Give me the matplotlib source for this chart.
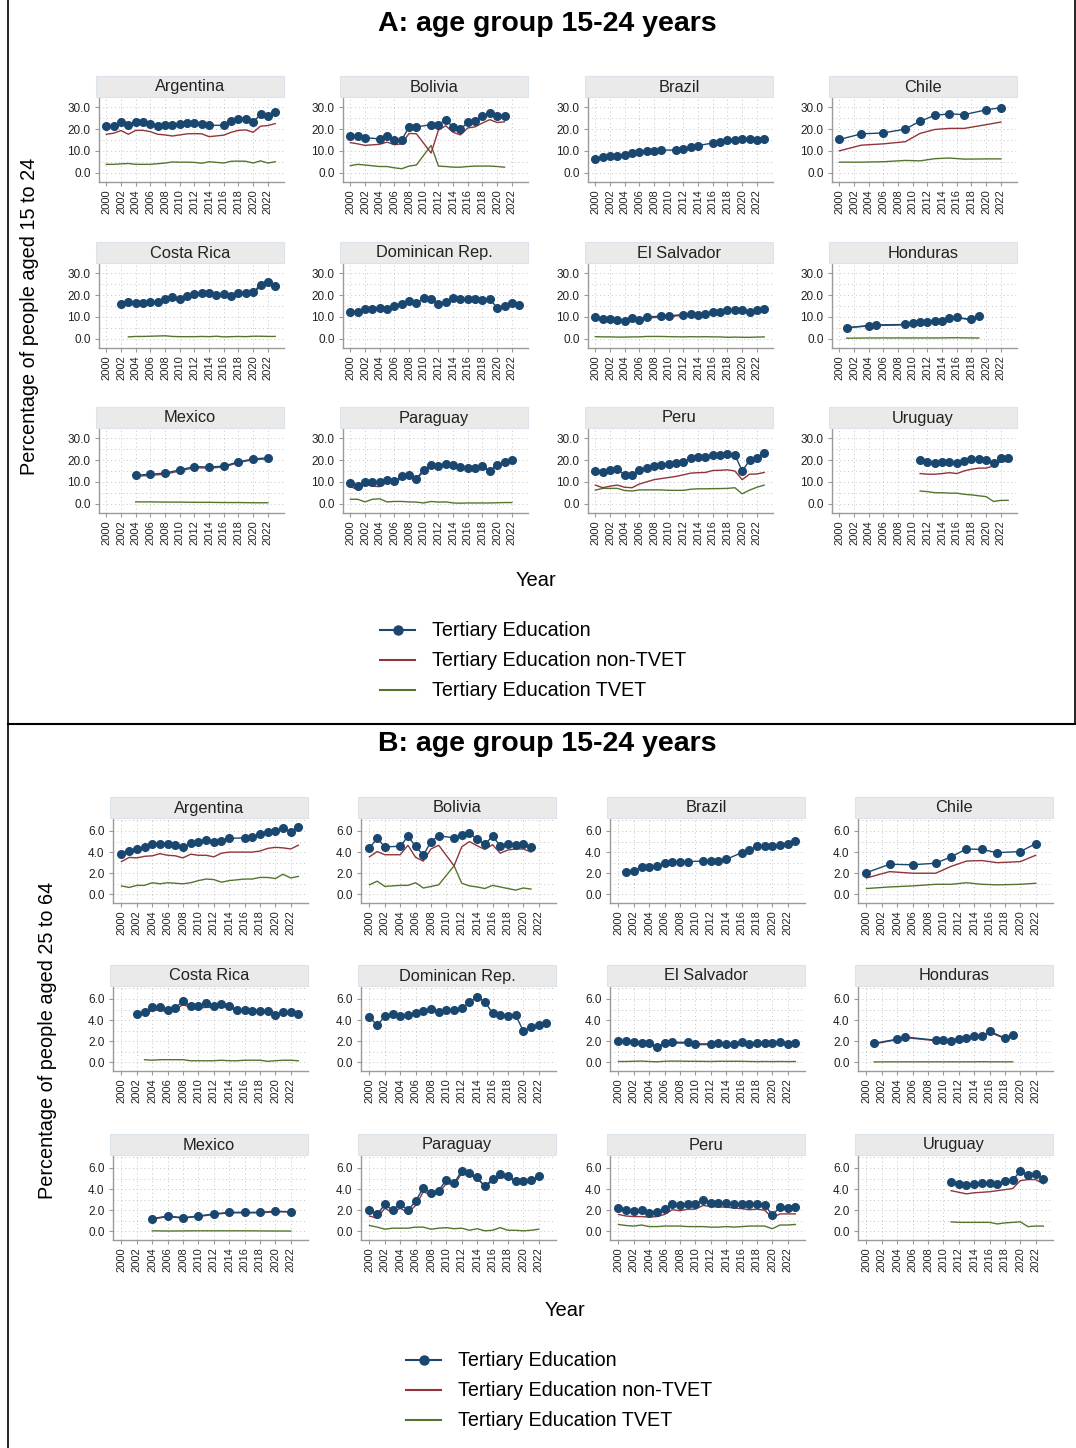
import numpy as np
import matplotlib
matplotlib.use("Agg")
import matplotlib.pyplot as plt
from matplotlib.ticker import FormatStrFormatter, MultipleLocator
from matplotlib.lines import Line2D
from matplotlib.patches import Rectangle

plt.rcParams['font.family'] = ['Liberation Sans', 'DejaVu Sans']

nan = np.nan

countries = ["Argentina", "Bolivia", "Brazil", "Chile",
             "Costa Rica", "Dominican Rep.", "El Salvador", "Honduras",
             "Mexico", "Paraguay", "Peru", "Uruguay"]

years_a = {
    "Argentina": [2000, 2001, 2002, 2003, 2004, 2005, 2006, 2007, 2008, 2009, 2010, 2011,
                  2012, 2013, 2014, 2016, 2017, 2018, 2019, 2020, 2021, 2022, 2023],
    "Bolivia": [2000, 2001, 2002, 2004, 2005, 2006, 2007, 2008, 2009, 2011, 2012, 2013,
                2014, 2015, 2016, 2017, 2018, 2019, 2020, 2021],
    "Brazil": [2000, 2001, 2002, 2003, 2004, 2005, 2006, 2007, 2008, 2009, 2011, 2012,
               2013, 2014, 2016, 2017, 2018, 2019, 2020, 2021, 2022, 2023],
    "Chile": [2000, 2003, 2006, 2009, 2011, 2013, 2015, 2017, 2020, 2022],
    "Costa Rica": [2002, 2003, 2004, 2005, 2006, 2007, 2008, 2009, 2010, 2011, 2012, 2013,
                   2014, 2015, 2016, 2017, 2018, 2019, 2020, 2021, 2022, 2023],
    "Dominican Rep.": [2000, 2001, 2002, 2003, 2004, 2005, 2006, 2007, 2008, 2009, 2010, 2011,
                       2012, 2013, 2014, 2015, 2016, 2017, 2018, 2019, 2020, 2021, 2022, 2023],
    "El Salvador": [2000, 2001, 2002, 2003, 2004, 2005, 2006, 2007, 2009, 2010, 2012, 2013,
                    2014, 2015, 2016, 2017, 2018, 2019, 2020, 2021, 2022, 2023],
    "Honduras": [2001, 2004, 2005, 2009, 2010, 2011, 2012, 2013, 2014, 2015, 2016, 2018, 2019],
    "Mexico": [2004, 2006, 2008, 2010, 2012, 2014, 2016, 2018, 2020, 2022],
    "Paraguay": [2000, 2001, 2002, 2003, 2004, 2005, 2006, 2007, 2008, 2009, 2010, 2011,
                 2012, 2013, 2014, 2015, 2016, 2017, 2018, 2019, 2020, 2021, 2022],
    "Peru": [2000, 2001, 2002, 2003, 2004, 2005, 2006, 2007, 2008, 2009, 2010, 2011,
             2012, 2013, 2014, 2015, 2016, 2017, 2018, 2019, 2020, 2021, 2022, 2023],
    "Uruguay": [2011, 2012, 2013, 2014, 2015, 2016, 2017, 2018, 2019, 2020, 2021, 2022, 2023],
}
years_b = dict(years_a)
years_b["Brazil"] = [2001, 2002, 2003, 2004, 2005, 2006, 2007, 2008, 2009, 2011, 2012,
                     2013, 2014, 2016, 2017, 2018, 2019, 2020, 2021, 2022, 2023]

# ---- Panel A: age 15-24 ----
total_a = {
    "Argentina": [21.3, 21.6, 23.1, 21.9, 23.1, 23.1, 22.4, 21.6, 21.9, 21.7, 22.2, 22.7,
                  22.7, 22.2, 21.7, 21.7, 23.7, 24.8, 24.8, 23.0, 26.8, 25.9, 27.6],
    "Bolivia": [17.0, 17.0, 16.0, 15.5, 16.8, 15.0, 15.0, 21.0, 21.0, 22.0, 22.0, 24.3,
                20.8, 20.0, 23.0, 23.8, 25.8, 27.3, 25.8, 25.8],
    "Brazil": [6.4, 7.2, 7.7, 7.7, 8.1, 9.0, 9.3, 9.8, 10.1, 10.3, 10.4, 10.9,
               11.6, 12.4, 13.6, 14.2, 15.0, 15.0, 15.6, 15.2, 15.0, 15.3],
    "Chile": [15.2, 17.8, 18.2, 20.0, 23.6, 26.3, 27.0, 26.6, 28.8, 29.8],
    "Costa Rica": [16.0, 16.6, 16.3, 16.5, 16.8, 17.0, 18.0, 19.0, 18.0, 19.5, 20.3, 21.0,
                   20.8, 19.8, 20.5, 19.5, 21.0, 20.8, 21.3, 24.8, 25.8, 24.3],
    "Dominican Rep.": [12.3, 12.0, 13.6, 13.8, 14.2, 13.8, 15.0, 16.0, 17.2, 16.3, 18.5, 18.2,
                       16.0, 16.8, 18.5, 18.2, 18.0, 18.2, 17.5, 18.0, 14.2, 14.8, 16.5, 15.2],
    "El Salvador": [9.8, 9.0, 9.2, 8.5, 8.3, 9.5, 8.4, 10.0, 10.3, 10.5, 11.0, 11.5,
                    11.0, 11.3, 12.0, 12.0, 13.0, 13.2, 13.0, 12.3, 13.3, 13.8],
    "Honduras": [5.0, 6.0, 6.3, 6.5, 7.0, 7.6, 7.8, 8.3, 8.3, 9.4, 9.8, 8.8, 10.3],
    "Mexico": [13.0, 13.5, 14.0, 15.5, 17.0, 16.8, 17.2, 19.2, 20.5, 21.0],
    "Paraguay": [9.5, 8.3, 10.0, 9.8, 9.8, 11.0, 10.5, 12.5, 13.0, 11.5, 15.5, 17.5,
                 17.3, 18.3, 17.8, 17.0, 16.5, 16.3, 17.2, 15.0, 17.8, 19.0, 19.8],
    "Peru": [14.8, 14.3, 15.2, 15.8, 13.3, 13.3, 15.5, 16.3, 17.3, 17.8, 18.3, 18.8,
             19.3, 20.8, 21.3, 21.3, 22.3, 22.3, 22.8, 22.5, 15.0, 19.8, 21.0, 23.0],
    "Uruguay": [19.8, 19.0, 18.8, 19.3, 19.0, 18.5, 19.5, 20.3, 20.5, 19.8, 18.5, 21.0, 20.8],
}
nontvet_a = {
    "Argentina": [17.6, 18.1, 19.3, 17.6, 19.4, 19.4, 18.8, 17.6, 17.3, 16.8, 17.3, 17.8,
                  17.9, 17.8, 16.5, 17.2, 18.5, 19.4, 19.6, 18.5, 21.3, 21.6, 22.5],
    "Bolivia": [13.8, 13.2, 12.5, 13.0, 14.0, 12.8, 13.2, 18.0, 17.8, 9.0, 19.5, 21.5,
                18.5, 17.3, 20.5, 21.0, 22.8, 24.3, 23.0, 23.3],
    "Brazil": None,
    "Chile": [10.0, 12.6, 13.2, 14.2, 18.0, 19.8, 20.3, 20.3, 22.0, 23.2],
    "Costa Rica": [nan, 15.8, 15.6, 15.8, 16.0, 16.2, 17.5, 18.3, 17.6, 18.8, 19.8, 20.3,
                   20.0, 19.3, 19.8, 19.0, 20.3, 20.2, 20.6, 24.0, 24.8, 23.8],
    "Dominican Rep.": None,
    "El Salvador": [9.5, 8.8, 9.0, 8.3, 8.2, 9.2, 8.2, 9.5, 9.8, 10.0, 10.8, 11.0,
                    10.8, 11.0, 11.5, 11.5, 12.5, 12.8, 12.5, 12.0, 12.8, 13.3],
    "Honduras": [5.0, 5.8, 6.0, 6.3, 6.8, 7.4, 7.6, 8.0, 8.0, 9.2, 9.6, 8.6, 10.0],
    "Mexico": [12.5, 13.0, 13.5, 15.0, 16.5, 16.3, 16.8, 18.8, 20.2, 20.5],
    "Paraguay": [7.8, 6.5, 9.0, 8.0, 7.8, 10.0, 10.0, 11.5, 12.0, 11.0, 15.0, 16.8,
                 17.0, 17.8, 17.5, 16.5, 16.0, 16.0, 16.8, 14.8, 17.5, 18.5, 19.5],
    "Peru": [8.5, 7.3, 8.0, 8.5, 7.5, 7.3, 9.0, 10.0, 11.0, 11.5, 12.0, 12.5,
             13.2, 14.0, 14.2, 14.3, 15.2, 15.3, 15.5, 15.0, 11.0, 13.5, 13.6, 14.3],
    "Uruguay": [13.8, 13.5, 13.5, 13.8, 14.2, 13.8, 15.0, 15.8, 16.3, 16.3, 17.3, 19.3, 19.3],
}
tvet_a = {
    "Argentina": [3.8, 3.8, 4.0, 4.2, 3.8, 3.8, 3.8, 4.1, 4.4, 4.9, 4.8, 4.8,
                  4.7, 4.3, 5.0, 4.4, 5.2, 5.3, 5.2, 4.4, 5.4, 4.4, 5.0],
    "Bolivia": [3.2, 3.8, 3.5, 2.8, 2.8, 2.2, 1.8, 3.0, 3.5, 12.5, 3.0, 2.8,
                2.5, 2.5, 2.8, 3.0, 3.0, 3.0, 2.8, 2.5],
    "Brazil": None,
    "Chile": [4.8, 4.8, 5.0, 5.6, 5.4, 6.4, 6.7, 6.2, 6.3, 6.3],
    "Costa Rica": [nan, 0.8, 1.0, 1.0, 1.1, 1.2, 1.3, 1.0, 0.9, 0.9, 0.9, 1.0,
                   0.9, 1.1, 0.8, 0.9, 1.0, 0.9, 1.1, 1.1, 1.0, 1.0],
    "Dominican Rep.": None,
    "El Salvador": [0.9, 0.8, 0.8, 0.7, 0.7, 0.8, 0.8, 1.0, 1.0, 0.9, 0.8, 0.9,
                    0.8, 0.9, 0.8, 0.8, 0.6, 0.7, 0.6, 0.6, 0.7, 0.8],
    "Honduras": [0.2, 0.3, 0.3, 0.3, 0.3, 0.3, 0.3, 0.3, 0.3, 0.4, 0.4, 0.3, 0.3],
    "Mexico": [0.8, 0.8, 0.7, 0.7, 0.6, 0.6, 0.5, 0.5, 0.4, 0.4],
    "Paraguay": [2.0, 2.0, 0.8, 2.0, 2.2, 0.8, 1.0, 1.0, 0.8, 0.7, 0.3, 1.0,
                 0.7, 0.8, 0.3, 0.2, 0.3, 0.3, 0.3, 0.3, 0.4, 0.5, 0.5],
    "Peru": [6.2, 7.0, 7.0, 7.0, 6.0, 5.8, 6.3, 6.3, 6.3, 6.3, 6.1, 6.1,
             6.1, 6.6, 6.8, 6.8, 6.9, 6.9, 7.0, 7.3, 4.5, 6.2, 7.5, 8.5],
    "Uruguay": [5.8, 5.5, 5.0, 5.0, 4.8, 4.8, 4.3, 4.0, 3.6, 3.2, 1.0, 1.5, 1.5],
}

# ---- Panel B: age 25-64 ----
total_b = {
    "Argentina": [3.85, 4.15, 4.3, 4.45, 4.8, 4.8, 4.8, 4.7, 4.45, 4.9, 4.95, 5.15,
                  4.95, 5.05, 5.3, 5.35, 5.4, 5.7, 5.95, 6.0, 6.3, 5.9, 6.35],
    "Bolivia": [4.4, 5.3, 4.5, 4.55, 5.5, 4.55, 3.7, 5.0, 5.55, 5.35, 5.6, 5.8,
                5.2, 4.75, 5.5, 4.6, 4.75, 4.7, 4.8, 4.5],
    "Brazil": [2.1, 2.25, 2.55, 2.55, 2.65, 2.95, 3.05, 3.05, 3.1, 3.15, 3.15,
               3.2, 3.3, 3.95, 4.2, 4.55, 4.6, 4.55, 4.65, 4.75, 5.05],
    "Chile": [2.05, 2.85, 2.8, 2.95, 3.55, 4.3, 4.25, 3.95, 4.05, 4.8],
    "Costa Rica": [4.55, 4.8, 5.2, 5.2, 4.95, 5.15, 5.8, 5.3, 5.35, 5.6, 5.35, 5.5,
                   5.35, 4.95, 4.95, 4.9, 4.9, 4.85, 4.5, 4.8, 4.8, 4.55],
    "Dominican Rep.": [4.3, 3.5, 4.35, 4.6, 4.4, 4.5, 4.7, 4.9, 5.05, 4.75, 4.95, 4.95,
                       5.1, 5.7, 6.2, 5.75, 4.65, 4.5, 4.4, 4.5, 2.95, 3.35, 3.5, 3.7],
    "El Salvador": [2.0, 2.0, 1.95, 1.85, 1.8, 1.5, 1.8, 1.9, 1.9, 1.75, 1.75, 1.8,
                    1.75, 1.75, 1.9, 1.7, 1.85, 1.8, 1.8, 1.9, 1.7, 1.85],
    "Honduras": [1.8, 2.2, 2.4, 2.1, 2.1, 2.05, 2.25, 2.3, 2.45, 2.45, 2.95, 2.3, 2.55],
    "Mexico": [1.2, 1.45, 1.3, 1.45, 1.65, 1.8, 1.8, 1.8, 1.9, 1.85],
    "Paraguay": [2.0, 1.6, 2.55, 2.0, 2.6, 2.0, 2.85, 4.15, 3.6, 3.85, 4.9, 4.55,
                 5.75, 5.5, 5.1, 4.25, 4.95, 5.4, 5.2, 4.8, 4.8, 4.85, 5.2],
    "Peru": [2.2, 2.0, 1.9, 2.0, 1.75, 1.85, 2.1, 2.55, 2.5, 2.6, 2.6, 2.95,
             2.7, 2.7, 2.7, 2.6, 2.6, 2.55, 2.6, 2.5, 1.55, 2.3, 2.25, 2.3],
    "Uruguay": [4.7, 4.5, 4.35, 4.45, 4.55, 4.55, 4.5, 4.75, 4.85, 5.7, 5.35, 5.45, 4.95],
}
nontvet_b = {
    "Argentina": [3.1, 3.5, 3.45, 3.6, 3.65, 3.85, 3.7, 3.65, 3.45, 3.8, 3.7, 3.7,
                  3.55, 3.9, 4.0, 4.0, 4.0, 4.1, 4.35, 4.45, 4.4, 4.3, 4.65],
    "Bolivia": [3.55, 4.05, 3.75, 3.75, 4.65, 3.5, 3.15, 4.3, 4.65, 2.7, 4.5, 5.0,
                4.6, 4.25, 4.7, 3.9, 4.2, 4.3, 4.3, 4.0],
    "Brazil": None,
    "Chile": [1.55, 2.15, 2.0, 2.0, 2.65, 3.15, 3.2, 3.0, 3.1, 3.7],
    "Costa Rica": [nan, 4.6, 4.9, 4.95, 4.8, 4.95, 5.5, 5.15, 5.15, 5.2, 5.2, 5.3,
                   5.25, 4.85, 4.8, 4.8, 4.75, 4.7, 4.45, 4.65, 4.6, 4.4],
    "Dominican Rep.": None,
    "El Salvador": [1.92, 1.92, 1.87, 1.77, 1.72, 1.45, 1.72, 1.82, 1.82, 1.68, 1.68, 1.72,
                    1.68, 1.68, 1.82, 1.63, 1.77, 1.72, 1.72, 1.82, 1.63, 1.77],
    "Honduras": [1.75, 2.15, 2.35, 2.05, 2.05, 2.0, 2.2, 2.25, 2.4, 2.4, 2.85, 2.25, 2.5],
    "Mexico": [1.15, 1.4, 1.25, 1.4, 1.6, 1.75, 1.75, 1.75, 1.85, 1.85],
    "Paraguay": [1.45, 1.25, 2.2, 1.75, 2.2, 1.75, 2.45, 3.75, 3.45, 3.6, 4.55, 4.4,
                 5.5, 5.3, 5.0, 4.3, 4.75, 5.1, 5.05, 4.75, 4.75, 4.8, 5.0],
    "Peru": [1.6, 1.45, 1.4, 1.4, 1.35, 1.4, 1.6, 2.05, 1.95, 2.1, 2.1, 2.45,
             2.35, 2.3, 2.3, 2.2, 2.15, 2.05, 2.1, 2.0, 1.3, 1.65, 1.65, 1.65],
    "Uruguay": [3.85, 3.7, 3.55, 3.65, 3.7, 3.75, 3.85, 3.95, 4.05, 4.8, 4.9, 4.9, 4.5],
}
tvet_b = {
    "Argentina": [0.8, 0.65, 0.85, 0.85, 1.1, 1.0, 1.1, 1.05, 1.0, 1.1, 1.3, 1.45,
                  1.4, 1.15, 1.3, 1.45, 1.45, 1.6, 1.6, 1.5, 1.9, 1.55, 1.7],
    "Bolivia": [0.9, 1.25, 0.75, 0.85, 0.85, 1.1, 0.6, 0.75, 0.9, 2.7, 1.05, 0.8,
                0.7, 0.55, 0.85, 0.7, 0.55, 0.4, 0.6, 0.5],
    "Brazil": None,
    "Chile": [0.55, 0.7, 0.8, 0.95, 0.95, 1.1, 0.95, 0.9, 0.95, 1.05],
    "Costa Rica": [nan, 0.25, 0.2, 0.25, 0.25, 0.25, 0.25, 0.15, 0.15, 0.15, 0.15, 0.2,
                   0.15, 0.15, 0.2, 0.2, 0.2, 0.1, 0.15, 0.2, 0.2, 0.15],
    "Dominican Rep.": None,
    "El Salvador": [0.08, 0.08, 0.1, 0.12, 0.08, 0.05, 0.1, 0.12, 0.1, 0.1, 0.08, 0.1,
                    0.1, 0.1, 0.1, 0.08, 0.07, 0.08, 0.07, 0.08, 0.07, 0.08],
    "Honduras": [0.04, 0.05, 0.05, 0.05, 0.05, 0.05, 0.05, 0.05, 0.05, 0.06, 0.05, 0.05, 0.05],
    "Mexico": [0.05, 0.03, 0.04, 0.05, 0.05, 0.05, 0.05, 0.04, 0.03, 0.03],
    "Paraguay": [0.55, 0.4, 0.2, 0.3, 0.3, 0.3, 0.4, 0.4, 0.2, 0.3, 0.35, 0.25,
                 0.3, 0.1, 0.25, 0.05, 0.1, 0.35, 0.1, 0.1, 0.05, 0.1, 0.2],
    "Peru": [0.65, 0.55, 0.5, 0.6, 0.45, 0.45, 0.5, 0.5, 0.5, 0.45, 0.45, 0.45,
             0.4, 0.4, 0.45, 0.4, 0.45, 0.5, 0.5, 0.5, 0.25, 0.6, 0.6, 0.65],
    "Uruguay": [0.9, 0.85, 0.85, 0.85, 0.85, 0.85, 0.7, 0.8, 0.85, 0.9, 0.45, 0.5, 0.5],
}

series_names = ["Tertiary Education", "Tertiary Education non-TVET", "Tertiary Education TVET"]
NAVY, MAROON, GREEN = "#1a476f", "#90353b", "#55752f"

W, H = 1076, 1448
fig = plt.figure(figsize=(W / 100, H / 100), dpi=100)


def px(x, y, w, h):
    return [x / W, 1 - (y + h) / H, w / W, h / H]


def fig_line(x0, y0, x1, y1, **kw):
    fig.add_artist(Line2D([x0 / W, x1 / W], [1 - y0 / H, 1 - y1 / H],
                          transform=fig.transFigure, **kw))


def draw_panel(lefts, tops, width, xlim, ylim, ystep, yrs, tot, non, tv):
    for i, c in enumerate(countries):
        r, k = divmod(i, 4)
        x0, y0 = lefts[k], tops[r]
        fig.add_artist(Rectangle((x0 / W, 1 - (y0 + 21) / H), width / W, 21 / H,
                                 transform=fig.transFigure, facecolor="#eaeaea",
                                 edgecolor="#dde3ea", lw=0.8))
        fig.text((x0 + width / 2) / W, 1 - (y0 + 11) / H, c, ha="center", va="center",
                 fontsize=11.8, color="#222222")
        ax = fig.add_axes(px(x0 + 3, y0 + 21, width - 3, 85))
        ax.set_facecolor("none")
        x = yrs[c]
        if tv[c] is not None:
            ax.plot(x, tv[c], color=GREEN, lw=1.0, zorder=2)
        if non[c] is not None:
            ax.plot(x, non[c], color=MAROON, lw=1.0, zorder=3)
        ax.plot(x, tot[c], color=NAVY, lw=1.0, marker="o", ms=5.5, zorder=4)
        ax.set_xlim(*xlim)
        ax.set_ylim(*ylim)
        ax.set_xticks(range(2000, 2023, 2))
        ax.set_xticklabels([str(v) for v in range(2000, 2023, 2)], rotation=90, fontsize=8)
        ax.yaxis.set_major_locator(MultipleLocator(ystep))
        ax.yaxis.set_minor_locator(MultipleLocator(ystep / 2))
        ax.yaxis.set_major_formatter(FormatStrFormatter("%.1f"))
        ax.tick_params(axis="y", labelsize=8.5, length=3, color="#9a9a9a", pad=3,
                       labelcolor="#222222")
        ax.tick_params(axis="y", which="minor", length=0)
        ax.tick_params(axis="x", length=3, color="#9a9a9a", pad=2, labelcolor="#222222")
        ax.grid(True, which="major", color="#c4c4c4", lw=0.7, linestyle=(0, (1, 3)))
        ax.grid(True, which="minor", axis="y", color="#c4c4c4", lw=0.7, linestyle=(0, (1, 3)))
        for s in ("top", "right"):
            ax.spines[s].set_visible(False)
        for s in ("left", "bottom"):
            ax.spines[s].set_color("#9a9a9a")
            ax.spines[s].set_linewidth(1.0)


def draw_legend(x0, y0):
    cols = [NAVY, MAROON, GREEN]
    for j, (name, col) in enumerate(zip(series_names, cols)):
        yy = y0 + 30 * j
        fig_line(x0, yy, x0 + 35, yy, color=col, lw=1.5)
        if j == 0:
            fig.add_artist(Line2D([(x0 + 17.5) / W], [1 - yy / H], transform=fig.transFigure,
                                  marker="o", ms=6.5, color=col))
        fig.text((x0 + 52) / W, 1 - yy / H, name, ha="left", va="center", fontsize=14.2)


# frames
fig_line(8, 0, 8, H, color="black", lw=1.2)
fig_line(1075, 0, 1075, 724, color="black", lw=1.2)
fig_line(8, 724, W, 724, color="black", lw=1.5)

# Panel A
fig.text(547 / W, 1 - 24 / H, "A: age group 15-24 years", ha="center", va="center",
         fontsize=20.5, fontweight="bold")
draw_panel([96, 340, 585, 829], [76, 242, 407], 188, (1999.0, 2024.2), (-4.3, 34.7), 10,
           years_a, total_a, nontvet_a, tvet_a)
fig.text(30 / W, 1 - 316 / H, "Percentage of people aged 15 to 24", rotation=90,
         ha="center", va="center", fontsize=14.3)
fig.text(536 / W, 1 - 581 / H, "Year", ha="center", va="center", fontsize=14.5)
draw_legend(380, 630)

# Panel B
fig.text(547 / W, 1 - 744 / H, "B: age group 15-24 years", ha="center", va="center",
         fontsize=20.5, fontweight="bold")
draw_panel([110, 358, 607, 855], [797, 965, 1134], 198, (1998.9, 2024.25), (-0.82, 7.23), 2,
           years_b, total_b, nontvet_b, tvet_b)
fig.text(48 / W, 1 - 1040 / H, "Percentage of people aged 25 to 64", rotation=90,
         ha="center", va="center", fontsize=14.3)
fig.text(565 / W, 1 - 1310 / H, "Year", ha="center", va="center", fontsize=14.5)
draw_legend(406, 1360)

fig.savefig("out.png", dpi=100)
